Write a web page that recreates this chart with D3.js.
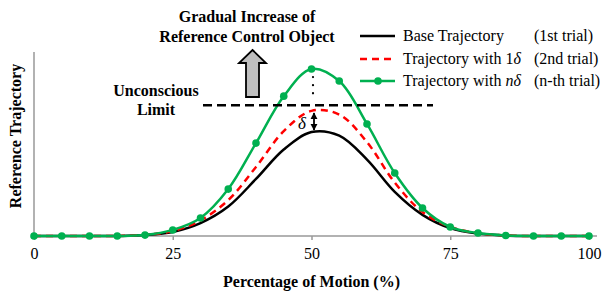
<!DOCTYPE html>
<html>
<head>
<meta charset="utf-8">
<script src="https://cdn.jsdelivr.net/npm/d3@7"></script>
<style>
  body { margin: 0; background: #fff; }
  svg { font-family: "Liberation Serif", "Times New Roman", serif; }
</style>
</head>
<body>
<div id="chart"></div>
<script>
// percentage of motion, every 5 %
const motion = [0, 5, 10, 15, 20, 25, 30, 35, 40, 45, 50, 55, 60, 65, 70, 75, 80, 85, 90, 95, 100];
// reference trajectory (0-100 scale)
const baseTraj = [0, 0, 0, 0, 0.5, 2.2, 7, 16, 31, 47, 56.5, 54.5, 41.5, 24, 11.5, 4.3, 1.3, 0.2, 0, 0, 0];
const oneDelta = [0, 0, 0, 0, 0.7, 2.7, 8.5, 19.5, 37.5, 57, 68, 66, 51, 29, 13, 5, 1.5, 0.3, 0, 0, 0];
const nDelta   = [0, 0, 0, 0, 0.5, 3.3, 9.8, 25.5, 50.5, 76, 90.8, 84.2, 60.9, 34.2, 15.2, 4.9, 1.6, 0.3, 0, 0, 0];
const xTicks = [0, 25, 50, 75, 100];
const unconsciousLimit = 71; // level of the dashed line
const seriesNames = ['Base Trajectory', 'Trajectory with 1δ', 'Trajectory with nδ'];
const trialNames = ['(1st trial)', '(2nd trial)', '(n-th trial)'];

const width = 603, height = 294;
const margin = {top: 52, right: 6, bottom: 58, left: 34};
const fs = 16;

const svg = d3.select('#chart').append('svg')
  .attr('width', width)
  .attr('height', height);

const x = d3.scaleLinear().domain([0, 100]).range([margin.left, 589]);
const y = d3.scaleLinear().domain([0, 100]).range([height - margin.bottom, margin.top]);

// axes
svg.append('line')
  .attr('x1', margin.left).attr('x2', width - margin.right)
  .attr('y1', y(0)).attr('y2', y(0))
  .attr('stroke', '#999').attr('stroke-width', 1.5);
svg.append('line')
  .attr('x1', margin.left).attr('x2', margin.left)
  .attr('y1', y(0)).attr('y2', y(100))
  .attr('stroke', '#999').attr('stroke-width', 1.5);

const xAxis = svg.append('g')
  .attr('transform', `translate(0, ${y(0)})`)
  .call(d3.axisBottom(x).tickValues(xTicks).tickSize(4).tickPadding(8));
xAxis.select('.domain').remove();
xAxis.selectAll('line').attr('stroke', '#999').attr('stroke-width', 1.5);
xAxis.selectAll('text')
  .attr('font-family', '"Liberation Serif", serif')
  .attr('font-size', fs)
  .attr('fill', '#000');

svg.append('text')
  .attr('x', x(50)).attr('y', 287)
  .attr('text-anchor', 'middle')
  .attr('font-weight', 'bold').attr('font-size', fs)
  .text('Percentage of Motion (%)');

svg.append('text')
  .attr('transform', 'translate(21, 136) rotate(-90)')
  .attr('text-anchor', 'middle')
  .attr('font-weight', 'bold').attr('font-size', fs)
  .text('Reference Trajectory');

// curves
const line = d3.line()
  .x((d, i) => x(motion[i]))
  .y(d => y(d))
  .curve(d3.curveCatmullRom.alpha(0.5));

svg.append('path').datum(baseTraj)
  .attr('d', line).attr('fill', 'none')
  .attr('stroke', '#000').attr('stroke-width', 2.5);

svg.append('path').datum(oneDelta)
  .attr('d', line).attr('fill', 'none')
  .attr('stroke', '#ff0000').attr('stroke-width', 2.5)
  .attr('stroke-dasharray', '7,5');

svg.append('path').datum(nDelta)
  .attr('d', line).attr('fill', 'none')
  .attr('stroke', '#00b050').attr('stroke-width', 2.5);

svg.selectAll('.pt').data(nDelta).enter()
  .append('circle').attr('class', 'pt')
  .attr('cx', (d, i) => x(motion[i]))
  .attr('cy', d => y(d))
  .attr('r', 3.8)
  .attr('fill', '#00b050');

// unconscious limit
svg.append('line')
  .attr('x1', 203).attr('x2', 433)
  .attr('y1', y(unconsciousLimit)).attr('y2', y(unconsciousLimit))
  .attr('stroke', '#000').attr('stroke-width', 2.5)
  .attr('stroke-dasharray', '9,5');

svg.append('text')
  .attr('x', 156).attr('y', 96)
  .attr('text-anchor', 'middle')
  .attr('font-weight', 'bold').attr('font-size', fs)
  .text('Unconscious');
svg.append('text')
  .attr('x', 156).attr('y', 115)
  .attr('text-anchor', 'middle')
  .attr('font-weight', 'bold').attr('font-size', fs)
  .text('Limit');

// dotted gap between limit and n-th peak
svg.append('line')
  .attr('x1', 313).attr('x2', 313)
  .attr('y1', 77).attr('y2', 96)
  .attr('stroke', '#000').attr('stroke-width', 2.2)
  .attr('stroke-linecap', 'round')
  .attr('stroke-dasharray', '0.1,8');

// delta arrow
const defs = svg.append('defs');
defs.append('marker')
  .attr('id', 'ah').attr('viewBox', '0 0 10 10')
  .attr('refX', 9).attr('refY', 5)
  .attr('markerWidth', 4).attr('markerHeight', 4)
  .attr('orient', 'auto-start-reverse')
  .append('path').attr('d', 'M0,0 L10,5 L0,10 z').attr('fill', '#000');

svg.append('line')
  .attr('x1', 314).attr('x2', 314)
  .attr('y1', y(68) + 2).attr('y2', y(57) - 1)
  .attr('stroke', '#000').attr('stroke-width', 1.8)
  .attr('marker-start', 'url(#ah)')
  .attr('marker-end', 'url(#ah)');

svg.append('text')
  .attr('x', 302).attr('y', 129)
  .attr('text-anchor', 'middle')
  .attr('font-style', 'italic').attr('font-size', 17)
  .text('δ');

// gray up arrow
svg.append('path')
  .attr('d', 'M252.5,50 L266,63 L259,63 L259,97 L246,97 L246,63 L239,63 Z')
  .attr('fill', '#bfbfbf').attr('stroke', '#000').attr('stroke-width', 1.8)
  .attr('stroke-linejoin', 'miter');

svg.append('text')
  .attr('x', 247).attr('y', 22)
  .attr('text-anchor', 'middle')
  .attr('font-weight', 'bold').attr('font-size', fs)
  .text('Gradual Increase of');
svg.append('text')
  .attr('x', 247).attr('y', 42)
  .attr('text-anchor', 'middle')
  .attr('font-weight', 'bold').attr('font-size', fs)
  .text('Reference Control Object');

// legend
const legendY = [36, 59, 81];
const lg = svg.append('g');
lg.append('line')
  .attr('x1', 360).attr('x2', 395).attr('y1', legendY[0]).attr('y2', legendY[0])
  .attr('stroke', '#000').attr('stroke-width', 2.5);
lg.append('line')
  .attr('x1', 360).attr('x2', 395).attr('y1', legendY[1]).attr('y2', legendY[1])
  .attr('stroke', '#ff0000').attr('stroke-width', 2.5).attr('stroke-dasharray', '7,5');
lg.append('line')
  .attr('x1', 360).attr('x2', 395).attr('y1', legendY[2]).attr('y2', legendY[2])
  .attr('stroke', '#00b050').attr('stroke-width', 2.5);
lg.append('circle')
  .attr('cx', 378).attr('cy', legendY[2]).attr('r', 3.8).attr('fill', '#00b050');

const t0 = lg.append('text').attr('x', 403).attr('y', legendY[0] + 5).attr('font-size', fs);
t0.text(seriesNames[0]);
const t1 = lg.append('text').attr('x', 403).attr('y', legendY[1] + 5).attr('font-size', fs);
t1.append('tspan').text('Trajectory with 1');
t1.append('tspan').attr('font-style', 'italic').text('δ');
const t2 = lg.append('text').attr('x', 403).attr('y', legendY[2] + 5).attr('font-size', fs);
t2.append('tspan').text('Trajectory with ');
t2.append('tspan').attr('font-style', 'italic').text('nδ');

trialNames.forEach((t, i) => {
  lg.append('text')
    .attr('x', 534).attr('y', legendY[i] + 5)
    .attr('font-size', fs)
    .text(t);
});
</script>
</body>
</html>
